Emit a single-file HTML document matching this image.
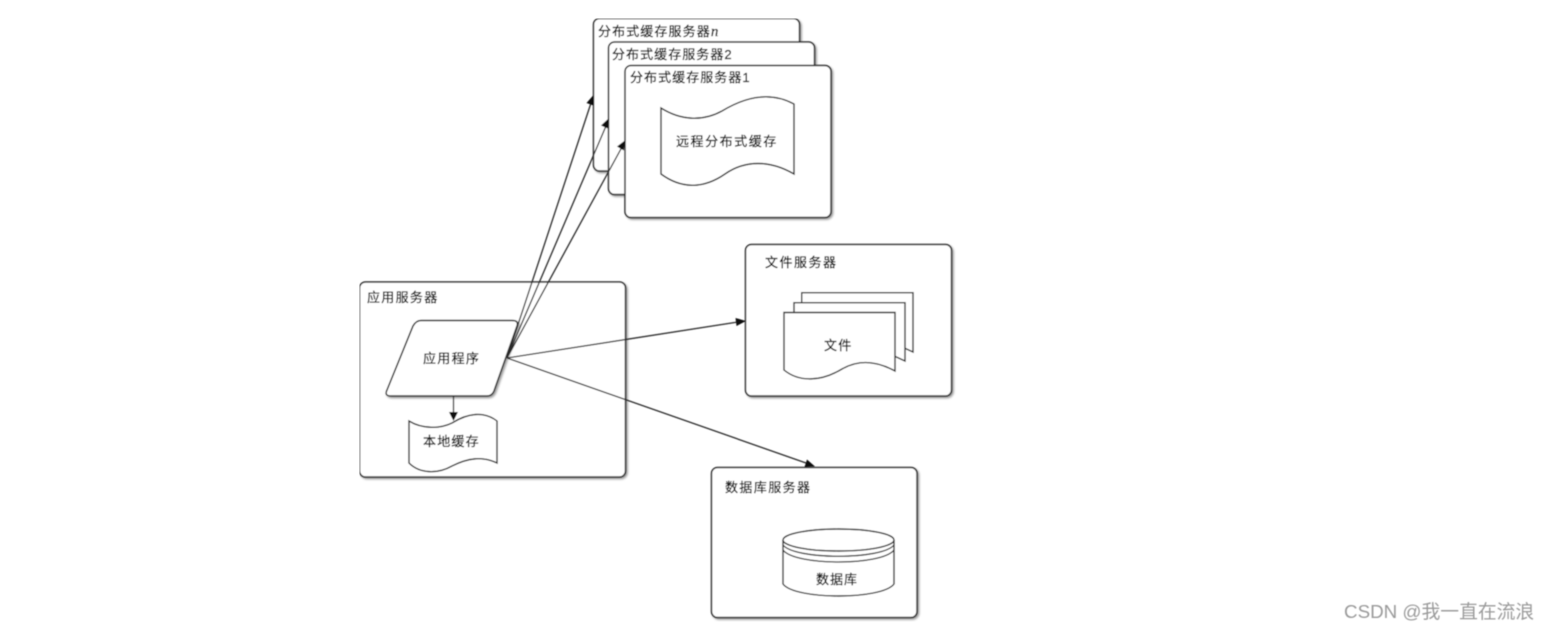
<!DOCTYPE html>
<html lang="zh">
<head>
<meta charset="utf-8">
<title>Diagram</title>
<style>
html,body{margin:0;padding:0;background:#fff;width:1551px;height:630px;overflow:hidden}
svg{display:block}
text{font-family:"Liberation Sans","Noto Sans CJK SC","WenQuanYi Zen Hei",sans-serif;fill:#000;stroke:#000;stroke-width:.25px;font-size:13px;letter-spacing:1.2px}
.s{fill:#fff;stroke:#2a2a2a;stroke-width:1.5;filter:url(#sh)}
.n{fill:#fff;stroke:#2a2a2a;stroke-width:1.4}
.l{fill:none;stroke:#2a2a2a;stroke-width:1.3}
.a{fill:#111}
</style>
</head>
<body>
<svg width="1551" height="630" viewBox="0 0 1551 630" xmlns="http://www.w3.org/2000/svg">
<defs>
<filter id="sh" x="-5%" y="-5%" width="110%" height="110%">
<feDropShadow dx="1.5" dy="1.5" stdDeviation="1" flood-color="#000" flood-opacity=".4"/>
</filter>
<filter id="b" x="0" y="0" width="100%" height="100%"><feGaussianBlur stdDeviation=".45"/></filter>
</defs>
<g filter="url(#b)">
<!-- distributed cache servers -->
<rect class="s" x="593.500" y="18.500" width="206" height="152.500" rx="6"/>
<text x="598" y="36" style="letter-spacing:1.1px">分布式缓存服务器<tspan font-family="Liberation Serif" font-style="italic" font-size="15">n</tspan></text>
<rect class="s" x="608.500" y="42" width="206" height="152.500" rx="6"/>
<text x="612" y="59" style="letter-spacing:1.05px">分布式缓存服务器2</text>
<rect class="s" x="625" y="65.500" width="206" height="152" rx="6"/>
<text x="630" y="82" style="letter-spacing:1.05px">分布式缓存服务器1</text>
<path class="n" d="M661 108C680 120 702 122 722 111C745 97 770 91 794 104V174C770 160 745 160 725 174C702 190 680 188 661 174Z"/>
<text x="676" y="146" style="letter-spacing:1.55px">远程分布式缓存</text>

<!-- file server -->
<rect class="s" x="745.500" y="244.500" width="206" height="151.500" rx="6"/>
<text x="765" y="267" style="letter-spacing:1.5px">文件服务器</text>
<path class="n" d="M801.700 305V292.700H913V352L900 346H801.700Z"/>
<path class="n" d="M794 315V302.700H905V361L892 355H794Z"/>
<path class="n" d="M784 312.500H895V371C875 360 858 360 842 369C822 381 800 383 784 370Z"/>
<text x="824" y="350" style="letter-spacing:1.2px">文件</text>

<!-- database server -->
<rect class="s" x="711.500" y="467.500" width="205.500" height="150" rx="6"/>
<text x="725" y="492" style="letter-spacing:1.4px">数据库服务器</text>
<path class="n" d="M783 540V584C795 600 882 600 894 584V540"/>
<ellipse class="n" cx="838.500" cy="540" rx="55.500" ry="11"/>
<path class="l" d="M783 545C795 560 882 560 894 545M783 550C795 566 882 566 894 550"/>
<text x="816" y="584" style="letter-spacing:1px">数据库</text>

<!-- app server -->
<rect class="s" x="359.500" y="282" width="266" height="195" rx="6"/>
<text x="367" y="302" style="letter-spacing:1.3px">应用服务器</text>
<path class="s" d="M421 320.500H512Q519 320.500 517 326L494 391Q492 396 487 396H391Q384 396 387 390L413 326Q416 320.500 421 320.500Z"/>
<text x="423" y="363" style="letter-spacing:1.3px">应用程序</text>
<path class="n" d="M409 421C422 429 440 429 452 423C468 413 484 411 497 421V463C482 456 468 458 452 466C438 474 420 474 409 463Z"/>
<text x="423" y="446" style="letter-spacing:1.2px">本地缓存</text>

<!-- connectors -->
<path class="l" d="M453.500 396V414"/>
<path class="a" d="M449 412H458L453.500 421Z"/>
<path class="l" d="M507 358L591 103M507 358L606 126M507 358L622 147M507 358L738 322M507 358L806 463"/>
<path class="a" d="M593.500 95L593.500 105.500L586.500 103Z"/>
<path class="a" d="M609 118L607.800 128.500L601 125.500Z"/>
<path class="a" d="M625.500 140L623.800 150.500L617 146.500Z"/>
<path class="a" d="M746 321L736.500 326L735.500 318Z"/>
<path class="a" d="M815 466.500L804.500 467L807 459.500Z"/>

<!-- watermark -->
<text x="1344" y="618" style="font-size:18.800px;letter-spacing:0;fill:#9a9a9a;stroke:none">CSDN @我一直在流浪</text>
</g>
</svg>
</body>
</html>
